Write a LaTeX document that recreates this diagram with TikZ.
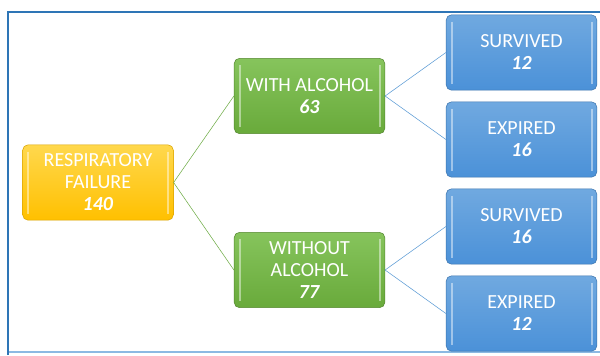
\documentclass[tikz,border=0pt]{standalone}
\usepackage{fontspec}
\setmainfont{Carlito}
\definecolor{frameblue}{HTML}{2E75B6}
\definecolor{linegreen}{HTML}{70AD47}
\definecolor{lineblue}{HTML}{5B9BD5}
\definecolor{yellowtop}{HTML}{FFD84D}
\definecolor{yellowbot}{HTML}{FFC000}
\definecolor{greentop}{HTML}{86C45C}
\definecolor{greenbot}{HTML}{69AA3B}
\definecolor{bluetop}{HTML}{70A9E0}
\definecolor{bluebot}{HTML}{4B91D8}
\tikzset{
  box/.style={rounded corners=4pt, minimum width=113pt, minimum height=56.5pt,
    inner sep=2pt, align=center, text=white, font=\fontsize{15}{16.5}\selectfont,
    path picture={
      \draw[white, opacity=0.45, line width=1.5pt]
        ([xshift=4pt,yshift=-5pt]path picture bounding box.north west) --
        ([xshift=4pt,yshift=5pt]path picture bounding box.south west);
      \draw[white, opacity=0.45, line width=1.5pt]
        ([xshift=-4pt,yshift=-5pt]path picture bounding box.north east) --
        ([xshift=-4pt,yshift=5pt]path picture bounding box.south east);
    }},
  yellowbox/.style={box, draw=yellowbot!85!black, top color=yellowtop, bottom color=yellowbot},
  greenbox/.style={box, draw=greenbot!80!black, top color=greentop, bottom color=greenbot},
  bluebox/.style={box, draw=bluebot!80!black, top color=bluetop, bottom color=bluebot},
}
\newcommand{\num}[1]{\textbf{\textit{#1}}}
\begin{document}
\begin{tikzpicture}[x=0.75pt, y=-0.75pt]
    \useasboundingbox (0,0) rectangle (600,355);
    \fill[white] (0,0) rectangle (600,355);

    % Frame
    \draw[lineblue!70, line width=1pt] (8,352) -- (600,352);
    \draw[frameblue, line width=1.5pt] (8,355) -- (8,12) -- (600,12);

    % Boxes
    \node[yellowbox] (resp) at (98,182.5) {RESPIRATORY\\FAILURE\\\num{140}};
    \node[greenbox] (with) at (309.5,96) {WITH ALCOHOL\\\num{63}};
    \node[greenbox] (without) at (309.5,270) {WITHOUT\\ALCOHOL\\\num{77}};
    \node[bluebox] (surv1) at (521.5,52.5) {SURVIVED\\\num{12}};
    \node[bluebox] (exp1) at (521.5,139.5) {EXPIRED\\\num{16}};
    \node[bluebox] (surv2) at (521.5,226.5) {SURVIVED\\\num{16}};
    \node[bluebox] (exp2) at (521.5,313.5) {EXPIRED\\\num{12}};

    % Connectors
    \draw[linegreen] (resp.east) -- (with.west);
    \draw[linegreen] (resp.east) -- (without.west);
    \draw[lineblue] (with.east) -- (surv1.west);
    \draw[lineblue] (with.east) -- (exp1.west);
    \draw[lineblue] (without.east) -- (surv2.west);
    \draw[lineblue] (without.east) -- (exp2.west);
\end{tikzpicture}
\end{document}
